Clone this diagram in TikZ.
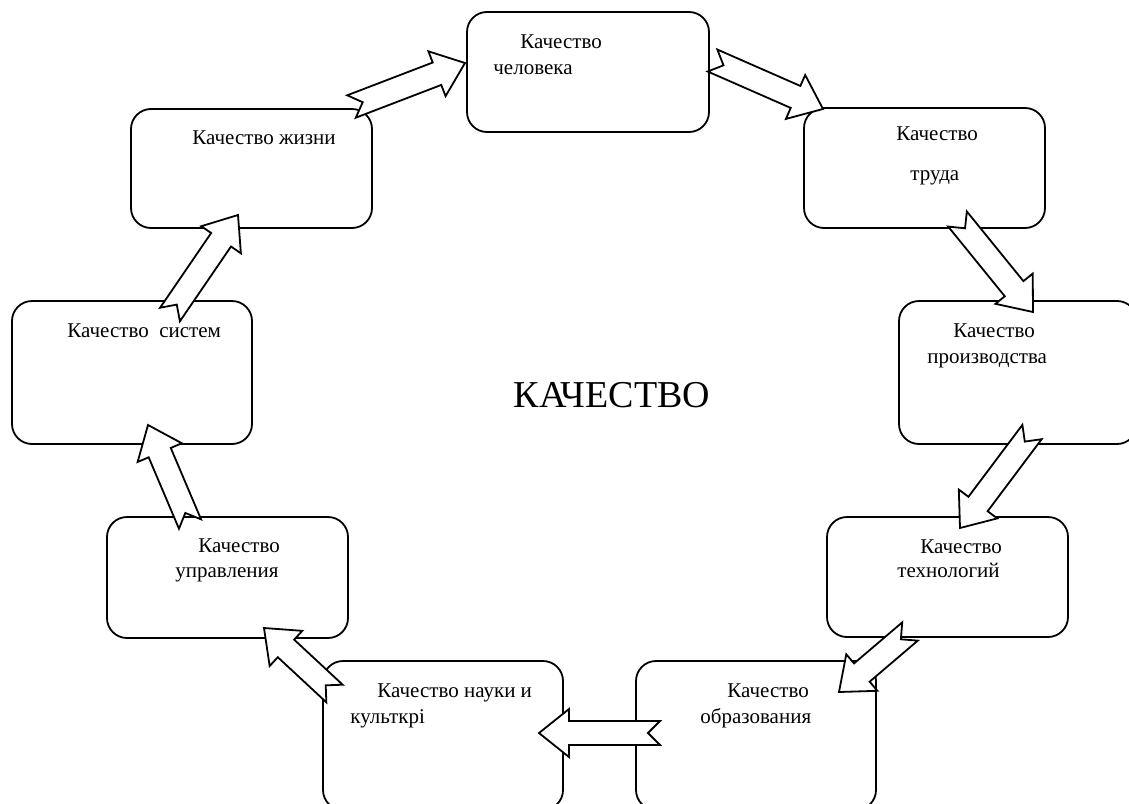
\documentclass[tikz,border=0pt]{standalone}
\usepackage{fontspec}
\setmainfont{Liberation Serif}
\usetikzlibrary{calc}
\begin{document}
\begin{tikzpicture}
[x=0.5pt,y=-0.5pt,
  boxDecorate/.style={shape=rectangle,rounded corners=10pt,draw,line width=0.9pt,inner sep=0pt},%
  textDecorate/.style={anchor=base west,inner sep=0pt,font=\fontsize{10.5}{12}\selectfont},%
  arrowDecorate/.style={draw,fill=white,line width=0.9pt,line join=miter}]
\useasboundingbox (0,0) rectangle (1129,803);
%% boxes
\foreach \nodename/\x/\y/\w/\h in {
  chelovek/588/72/242/120, trud/924.5/168/241/120, proizv/1018/372.5/238/143,
  tekhn/947.5/577/241/120, obraz/756/735.5/240/149, nauka/443/735.5/240/149,
  upravl/227.5/577.5/241/121, sistem/132/372.5/240/143, zhizn/251.5/168.5/241/119}
{
  \node (\nodename) at (\x,\y) [boxDecorate,minimum width=\w*0.5pt,minimum height=\h*0.5pt] {};
}
%% texts
\foreach \nodename/\x/\y/\txt in {
  chelovekA/520/48/Качество, chelovekB/493/74/человека,
  trudA/896/140/Качество, trudB/910/180/труда,
  proizvA/953/337/Качество, proizvB/927/363/производства,
  tekhnA/920/553/Качество, tekhnB/897/577/технологий,
  obrazA/727/697/Качество, obrazB/700/723/образования,
  naukaA/377/697/Качество науки и, naukaB/350/723/культкрі,
  upravlA/198/552/Качество, upravlB/175/577/управления,
  sistemA/67/337/Качество~~систем, zhiznA/192/144/Качество жизни}
{
  \node (\nodename) at (\x,\y) [textDecorate] {\txt};
}
\node (center) at (612,407) [anchor=base,inner sep=0pt,font=\fontsize{19}{21}\selectfont] {КАЧЕСТВО};
%% arrow ends
\foreach \nodename/\x/\y in {
  zhiznOut/351.5/106.5, chelovekIn/465/63, chelovekOut/712.5/60.5, trudIn/823/109,
  trudOut/957.5/219, proizvIn/1033/312, proizvOut/1032/432, tekhnIn/960/528,
  tekhnOut/910/631.5, obrazIn/839/692, obrazOut/660/733, naukaIn/539/733,
  naukaOut/334.5/693.5, upravlIn/264/628, upravlOut/190/524, sistemIn/148/425,
  sistemOut/170/314.5, zhiznIn/238/215}
{
  \coordinate (\nodename) at (\x,\y);
}
%% block arrows
\foreach \startnode/\endnode in {zhiznOut/chelovekIn, chelovekOut/trudIn,
  trudOut/proizvIn, proizvOut/tekhnIn, tekhnOut/obrazIn, obrazOut/naukaIn,
  naukaOut/upravlIn, upravlOut/sistemIn, sistemOut/zhiznIn}
{
  \coordinate (headBase) at ($(\endnode)!15pt!(\startnode)$);
  \path[arrowDecorate] ($(\startnode)!6pt!90:(\endnode)$) -- ($(headBase)!6pt!90:(\endnode)$)
    -- ($(headBase)!12pt!90:(\endnode)$) -- (\endnode) -- ($(headBase)!12pt!-90:(\endnode)$)
    -- ($(headBase)!6pt!-90:(\endnode)$) -- ($(\startnode)!6pt!-90:(\endnode)$)
    -- ($(\startnode)!6pt!(\endnode)$) -- cycle;
}
\end{tikzpicture}
\end{document}
